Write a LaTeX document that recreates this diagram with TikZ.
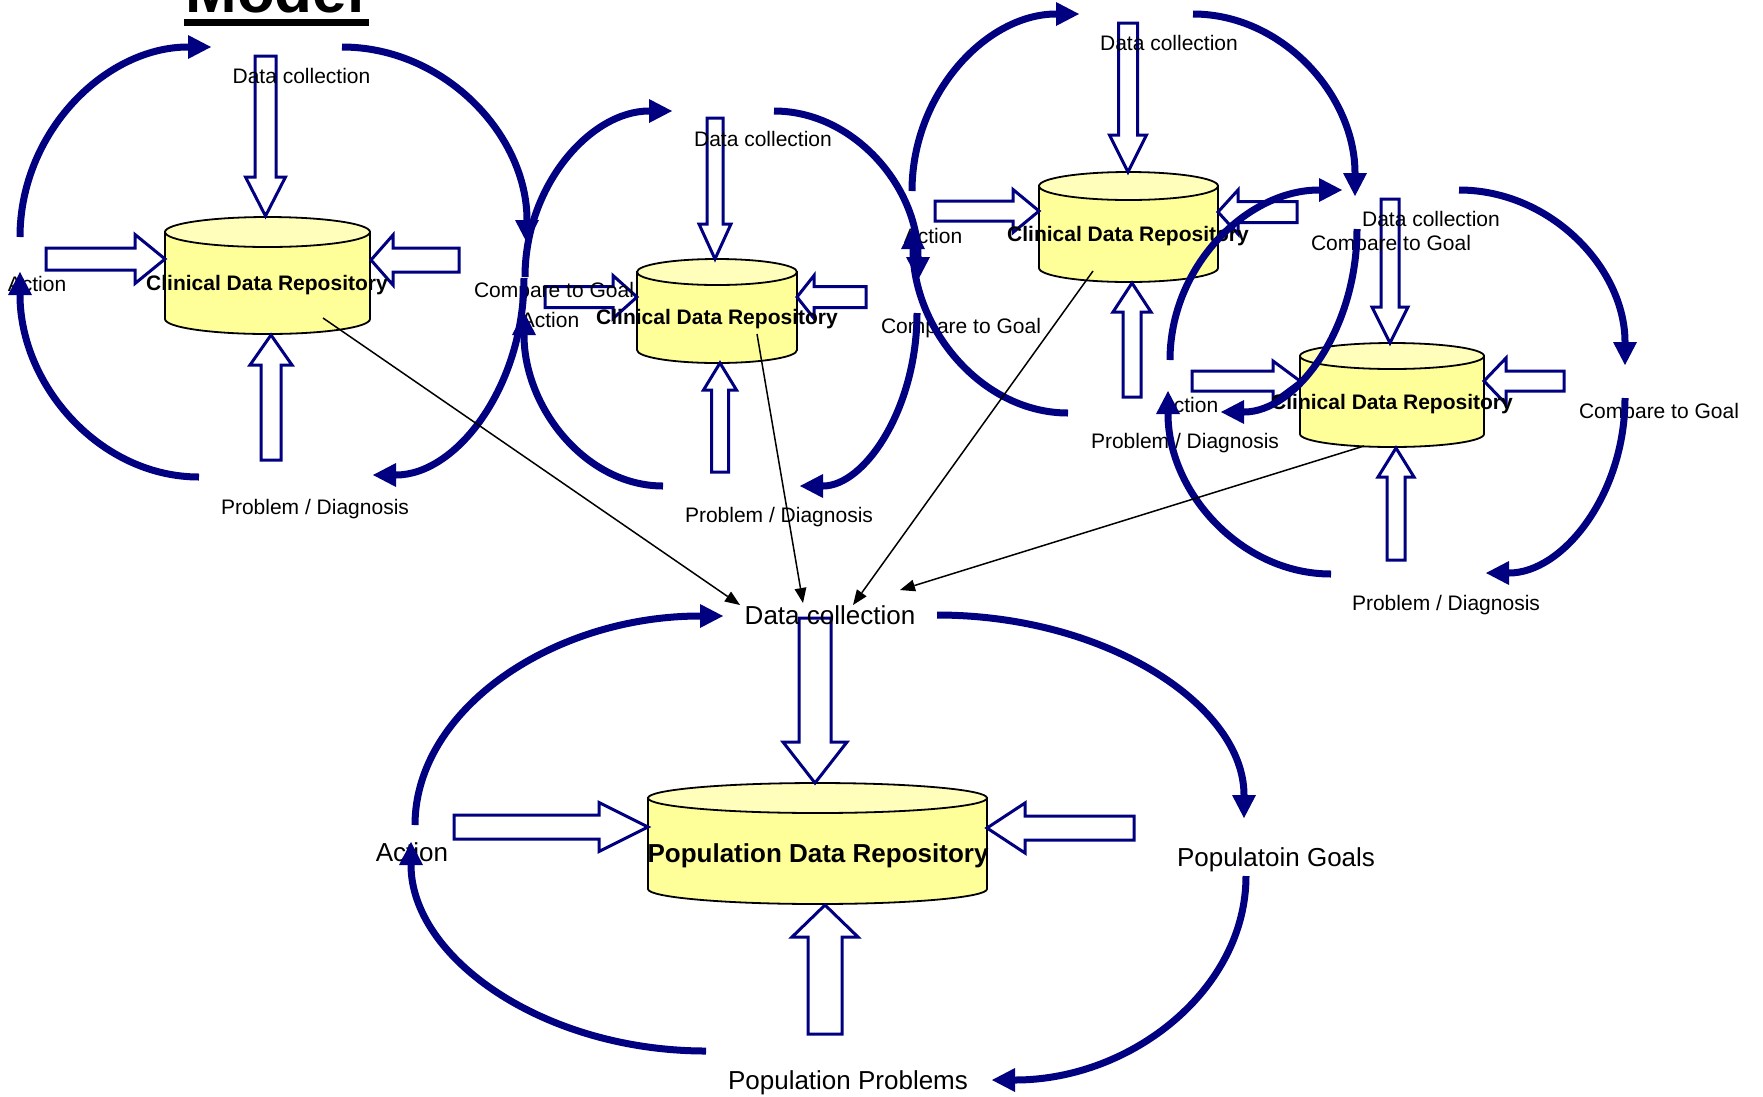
\documentclass[tikz,border=0pt]{standalone}
\usepackage{fontspec}
\setmainfont{Liberation Sans}
\usetikzlibrary{arrows.meta,calc}
\definecolor{navy}{RGB}{0,0,128}
\definecolor{cylbody}{RGB}{255,255,153}
\definecolor{cyltop}{RGB}{255,255,187}
\tikzset{
  flow/.style={color=navy, line width=7pt, -{Triangle[length=23pt,width=24pt,line width=0pt]}},
  blk/.style={draw=navy, line width=3pt, fill=white, miter limit=4},
  cylline/.style={draw=black, line width=1.8pt},
  lbl/.style={font=\fontsize{21}{25}\selectfont, inner sep=0pt, anchor=base},
  biglbl/.style={font=\fontsize{26}{31}\selectfont, inner sep=0pt, anchor=base},
  cyltxt/.style={font=\bfseries\fontsize{21}{25}\selectfont, inner sep=0pt, anchor=base},
  bigcyltxt/.style={font=\bfseries\fontsize{26}{31}\selectfont, inner sep=0pt, anchor=base},
  feed/.style={color=black, line width=1.5pt, -{Triangle[length=15pt,width=12pt,line width=0pt]}},
}
\newcommand\arcV[2]{\draw[flow] (#1) .. controls ($(#1)!0.5523!(#1|-#2)$) and ($(#2)!0.5523!(#1|-#2)$) .. (#2);}
\newcommand\arcH[2]{\draw[flow] (#1) .. controls ($(#1)!0.5523!(#2|-#1)$) and ($(#2)!0.5523!(#2|-#1)$) .. (#2);}
\newcommand\myarrow[7]{\draw[blk, shift={(#1,#2)}, rotate=#3] (0,-#5) -- ({#4-#7},-#5) -- ({#4-#7},-#6) -- (#4,0) -- ({#4-#7},#6) -- ({#4-#7},#5) -- (0,#5) -- cycle;}
\newcommand\mycyl[5]{%
  \pgfmathsetmacro\cxm{(#1+#2)/2}%
  \pgfmathsetmacro\rxm{(#2-#1)/2}%
  \pgfmathsetmacro\ybot{#4+#5}%
  \pgfmathsetmacro\yk{#4+0.5523*#5}%
  \pgfmathsetmacro\xkl{\cxm-0.5523*\rxm}%
  \pgfmathsetmacro\xkr{\cxm+0.5523*\rxm}%
  \filldraw[cylline, fill=cylbody] (#1,#3) -- (#1,#4) .. controls (#1,\yk) and (\xkl,\ybot) .. (\cxm,\ybot) .. controls (\xkr,\ybot) and (#2,\yk) .. (#2,#4) -- (#2,#3) -- cycle;
  \filldraw[cylline, fill=cyltop] (\cxm,#3) ellipse [x radius=\rxm, y radius=#5];
}
\begin{document}
\begin{tikzpicture}[x=1pt,y=-1pt]
\useasboundingbox (0,0) rectangle (1763,1096);
\clip (0,0) rectangle (1763,1096);

% title (mostly cut off at the top edge)
\node[font=\bfseries\fontsize{62}{70}\selectfont, inner sep=0pt, anchor=base] (title) at (275,12.5) {Model};
\fill (184,19) rectangle (369,26);

% cylinders
\mycyl{165}{370}{232}{319}{15}
\mycyl{637}{797}{272}{350}{13}
\mycyl{1039}{1218}{186}{268}{14}
\mycyl{1300}{1484}{356}{434}{13}
\mycyl{648}{987}{798}{889}{15}

% block arrows: tail x, tail y, rotation, length, shaft half width, head half width, head length
\myarrow{265.5}{56}{-90}{160}{10.5}{20}{39}
\myarrow{46}{259}{0}{119}{11}{24.5}{30}
\myarrow{459}{260}{180}{88}{12}{25}{22}
\myarrow{271}{460}{90}{125}{10}{21}{30}

\myarrow{715}{118}{-90}{141}{8}{16}{35}
\myarrow{545}{297}{0}{92}{10.5}{21.5}{24}
\myarrow{866}{297}{180}{69}{10.5}{21.5}{17}
\myarrow{720}{472}{90}{109}{8.5}{16.5}{27}

\myarrow{1128}{23}{-90}{149}{9.5}{18.5}{37}
\myarrow{935}{211}{0}{104}{10}{21.5}{26}
\myarrow{1297}{212}{180}{79}{10.5}{22}{20}
\myarrow{1132}{397}{90}{114}{9}{19}{29}

\myarrow{1390}{199}{-90}{144}{9}{18}{36}
\myarrow{1192}{381}{0}{108}{10}{20}{27}
\myarrow{1564}{381}{180}{80}{10}{23}{22}
\myarrow{1396}{560}{90}{112}{9}{18}{29}

\myarrow{815}{618}{-90}{165}{16}{32}{41}
\myarrow{454}{827}{0}{194}{12}{24.5}{49}
\myarrow{1134}{828}{180}{147}{12}{25}{38}
\myarrow{825}{1034}{90}{129}{17}{33}{32}

% repository texts
\node[cyltxt] (db1) at (267,290.5) {Clinical Data Repository};
\node[cyltxt] (db2) at (717,324.5) {Clinical Data Repository};
\node[cyltxt] (db3) at (1128,241) {Clinical Data Repository};
\node[cyltxt] (db4) at (1392,409) {Clinical Data Repository};
\node[bigcyltxt] (db5) at (818,862) {Population Data Repository};

% labels
\node[lbl] (dc1) at (301.5,83.5) {Data collection};
\node[lbl] (cg1) at (554,297.5) {Compare to Goal};
\node[lbl] (pd1) at (315,514) {Problem / Diagnosis};
\node[lbl] (ac1) at (37,291.5) {Action};

\node[lbl] (dc2) at (763,146.5) {Data collection};
\node[lbl] (cg2) at (961,333.5) {Compare to Goal};
\node[lbl] (pd2) at (779,522.5) {Problem / Diagnosis};
\node[lbl] (ac2) at (550,327.5) {Action};

\node[lbl] (dc3) at (1169,50.5) {Data collection};
\node[lbl] (cg3) at (1391,250) {Compare to Goal};
\node[lbl] (pd3) at (1185,448.5) {Problem / Diagnosis};
\node[lbl] (ac3) at (933,243.5) {Action};

\node[lbl] (dc4) at (1431,226.5) {Data collection};
\node[lbl] (cg4) at (1659,418) {Compare to Goal};
\node[lbl] (pd4) at (1446,610) {Problem / Diagnosis};
\node[lbl] (ac4) at (1189,412) {Action};

\node[biglbl] (dc5) at (830,624.5) {Data collection};
\node[biglbl] (cg5) at (1276,866.5) {Populatoin Goals};
\node[biglbl] (pd5) at (848,1089) {Population Problems};
\node[biglbl] (ac5) at (412,861.5) {Action};

% loop arc end points
\coordinate (a1s) at (20,237);   \coordinate (a1e) at (211,47);
\coordinate (b1s) at (342,47);   \coordinate (b1e) at (527,243);
\coordinate (c1s) at (524,278);  \coordinate (c1e) at (373,475);
\coordinate (d1s) at (199,477);  \coordinate (d1e) at (20,272);

\coordinate (a2s) at (525,277);  \coordinate (a2e) at (672,111);
\coordinate (b2s) at (774,111);  \coordinate (b2e) at (918,280);
\coordinate (c2s) at (917,313);  \coordinate (c2e) at (800,486);
\coordinate (d2s) at (663,486);  \coordinate (d2e) at (524,312);

\coordinate (a3s) at (912,191);  \coordinate (a3e) at (1079,14);
\coordinate (b3s) at (1193,14);  \coordinate (b3e) at (1355,196);
\coordinate (c3s) at (1357,229); \coordinate (c3e) at (1221,412);
\coordinate (d3s) at (1068,413); \coordinate (d3e) at (913,226);

\coordinate (a4s) at (1170,360); \coordinate (a4e) at (1342,190);
\coordinate (b4s) at (1459,190); \coordinate (b4e) at (1625,365);
\coordinate (c4s) at (1625,398); \coordinate (c4e) at (1486,573);
\coordinate (d4s) at (1331,574); \coordinate (d4e) at (1168,391);

\coordinate (a5s) at (415,825);  \coordinate (a5e) at (723,616);
\coordinate (b5s) at (937,615);  \coordinate (b5e) at (1244,818);
\coordinate (c5s) at (1246,876); \coordinate (c5e) at (992,1080);
\coordinate (d5s) at (706,1051); \coordinate (d5e) at (411,842);

\arcV{a1s}{a1e} \arcH{b1s}{b1e} \arcV{c1s}{c1e} \arcH{d1s}{d1e}
\arcV{a2s}{a2e} \arcH{b2s}{b2e} \arcV{c2s}{c2e} \arcH{d2s}{d2e}
\arcV{a3s}{a3e} \arcH{b3s}{b3e} \arcV{c3s}{c3e} \arcH{d3s}{d3e}
\arcV{a4s}{a4e} \arcH{b4s}{b4e} \arcV{c4s}{c4e} \arcH{d4s}{d4e}
\arcV{a5s}{a5e} \arcH{b5s}{b5e} \arcV{c5s}{c5e} \arcH{d5s}{d5e}

% feeds from clinical repositories to population data collection
\coordinate (f1s) at (323,318);  \coordinate (f1e) at (740,605);
\coordinate (f2s) at (757,334);  \coordinate (f2e) at (803,603);
\coordinate (f3s) at (1093,271); \coordinate (f3e) at (853,605);
\coordinate (f4s) at (1364,446); \coordinate (f4e) at (900,590);
\draw[feed] (f1s) -- (f1e);
\draw[feed] (f2s) -- (f2e);
\draw[feed] (f3s) -- (f3e);
\draw[feed] (f4s) -- (f4e);
\end{tikzpicture}
\end{document}
